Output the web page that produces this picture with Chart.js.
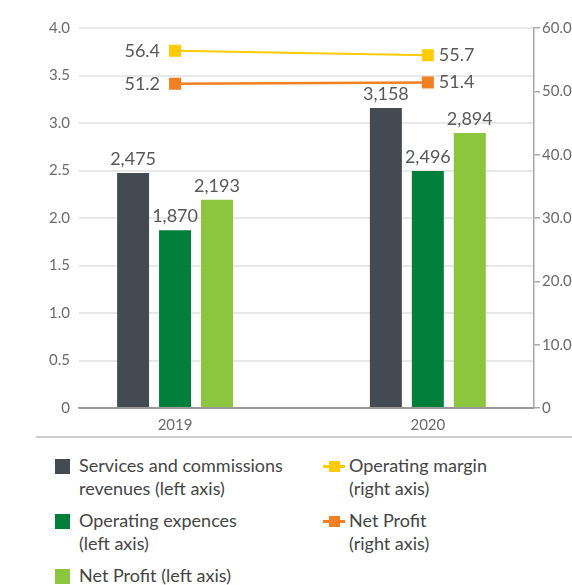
<!DOCTYPE html>
<html lang="en">
<head>
<meta charset="UTF-8">
<title>Revenues, expenses and margins</title>
<script src="https://cdn.jsdelivr.net/npm/chart.js"></script>
<style>
  body { margin: 0; width: 572px; height: 585px; overflow: hidden; background: #fff; position: relative; font-family: Lato, "Noto Sans", sans-serif; }
  #chart { position: absolute; left: 0; top: 0; }
  .sep { position: absolute; left: 36px; top: 436px; width: 560px; height: 2px; background: #cdcdcd; }
  .item { position: absolute; color: #454545; font-size: 18px; line-height: 23px; white-space: pre-line; }
  .box { position: absolute; width: 15px; height: 15px; }
  .mark { position: absolute; width: 22px; height: 3px; }
  .mark i { position: absolute; left: 6px; top: -4px; width: 11px; height: 11px; }
</style>
</head>
<body>
<canvas id="chart" width="600" height="449"></canvas>
<div class="sep"></div>
<div id="legend"></div>

<script>
  // values (bars in units, left axis in thousands)
  const years = ['2019', '2020'];
  const revenues = [2475, 3158];
  const expenses = [1870, 2496];
  const netProfit = [2193, 2894];
  const operatingMargin = [56.4, 55.7];
  const netProfitMargin = [51.2, 51.4];
  const leftTicks = [0, 0.5, 1, 1.5, 2, 2.5, 3, 3.5, 4];
  const rightTicks = [0, 10, 20, 30, 40, 50, 60];

  const barNames = ['Services and commissions\nrevenues (left axis)', 'Operating expences\n(left axis)', 'Net Profit (left axis)'];
  const lineNames = ['Operating margin\n(right axis)', 'Net Profit\n(right axis)'];
  const barColors = ['#434a52', '#007e3a', '#8cc63f'];
  const lineColors = ['#ffcb05', '#f28022'];

  const toPoints = arr => arr.map((v, i) => ({ x: i, y: v }));

  const valueLabels = {
    id: 'valueLabels',
    afterDatasetsDraw(chart) {
      const ctx = chart.ctx;
      ctx.save();
      ctx.fillStyle = '#585858';
      ctx.font = '18px Lato, "Noto Sans", sans-serif';
      chart.data.datasets.forEach((ds, i) => {
        const meta = chart.getDatasetMeta(i);
        meta.data.forEach((el, j) => {
          if (ds.type === 'line') {
            ctx.textBaseline = 'middle';
            ctx.textAlign = j === 0 ? 'right' : 'left';
            ctx.fillText(ds.data[j].y.toFixed(1), el.x + (j === 0 ? -15 : 11), el.y);
          } else {
            ctx.textBaseline = 'alphabetic';
            ctx.textAlign = 'center';
            ctx.fillText(ds.values[j].toLocaleString('en-US'), el.x, el.y - 8);
          }
        });
      });
      ctx.restore();
    }
  };

  const barSets = [revenues, expenses, netProfit].map((vals, i) => ({
    type: 'bar',
    label: barNames[i],
    values: vals,
    data: toPoints(vals.map(v => v / 1000)),
    backgroundColor: barColors[i],
    yAxisID: 'y',
    categoryPercentage: 0.498,
    barPercentage: 0.762,
    order: 2
  }));

  const lineSets = [operatingMargin, netProfitMargin].map((vals, i) => ({
    type: 'line',
    label: lineNames[i],
    data: toPoints(vals),
    borderColor: lineColors[i],
    backgroundColor: lineColors[i],
    borderWidth: i === 0 ? 2 : 2.5,
    pointStyle: 'rect',
    pointRadius: 8.5,
    pointBorderWidth: 0,
    yAxisID: 'y1',
    order: 1
  }));

  const tickFont = { family: 'Lato, "Noto Sans", sans-serif', size: 15 };

  new Chart(document.getElementById('chart'), {
    data: { datasets: [...barSets, ...lineSets] },
    plugins: [valueLabels],
    options: {
      responsive: false,
      animation: false,
      devicePixelRatio: 1,
      layout: { padding: { top: 28, bottom: 7, left: 0, right: 0 } },
      plugins: { legend: { display: false }, tooltip: { enabled: false } },
      scales: {
        x: {
          type: 'linear',
          offset: false,
          min: -0.38,
          max: 1.42,
          afterBuildTicks: s => { s.ticks = years.map((y, i) => ({ value: i })); },
          ticks: { font: tickFont, color: '#6b6b6b', padding: 8, callback: v => years[v] },
          grid: { offset: false, drawOnChartArea: false, drawTicks: false },
          border: { color: '#9a9a9a', width: 1.5 }
        },
        y: {
          position: 'left',
          min: 0,
          max: 4,
          afterBuildTicks: s => { s.ticks = leftTicks.map(v => ({ value: v })); },
          afterFit: s => { s.width = 79; },
          ticks: { font: tickFont, color: '#6b6b6b', padding: 9, callback: v => v === 0 ? '0' : v.toFixed(1) },
          grid: { drawTicks: false, lineWidth: 2, color: ctx => ctx.tick && ctx.tick.value === 0 ? '#9a9a9a' : '#e8e8e8' },
          border: { display: false }
        },
        y1: {
          position: 'right',
          min: 0,
          max: 60,
          afterBuildTicks: s => { s.ticks = rightTicks.map(v => ({ value: v })); },
          afterFit: s => { s.width = 66; },
          ticks: { font: tickFont, color: '#6b6b6b', padding: 2, callback: v => v === 0 ? '0' : v.toFixed(1) },
          grid: { drawOnChartArea: false, tickLength: 6, color: '#a8a8a8', lineWidth: 1.5 },
          border: { color: '#a8a8a8', width: 1.5 }
        }
      }
    }
  });

  // legend built from the same names and colours
  const legend = document.getElementById('legend');
  const barTops = [454, 509, 564];
  barNames.forEach((name, i) => {
    const box = document.createElement('div');
    box.className = 'box';
    box.style.cssText = `left:55px;top:${barTops[i] + 5}px;background:${barColors[i]}`;
    const txt = document.createElement('div');
    txt.className = 'item';
    txt.style.cssText = `left:79px;top:${barTops[i]}px`;
    txt.textContent = name;
    legend.append(box, txt);
  });
  lineNames.forEach((name, i) => {
    const mark = document.createElement('div');
    mark.className = 'mark';
    mark.style.cssText = `left:323px;top:${barTops[i] + 11}px;background:${lineColors[i]}`;
    mark.innerHTML = `<i style="background:${lineColors[i]}"></i>`;
    const txt = document.createElement('div');
    txt.className = 'item';
    txt.style.cssText = `left:349px;top:${barTops[i]}px`;
    txt.textContent = name;
    legend.append(mark, txt);
  });
</script>
</body>
</html>
